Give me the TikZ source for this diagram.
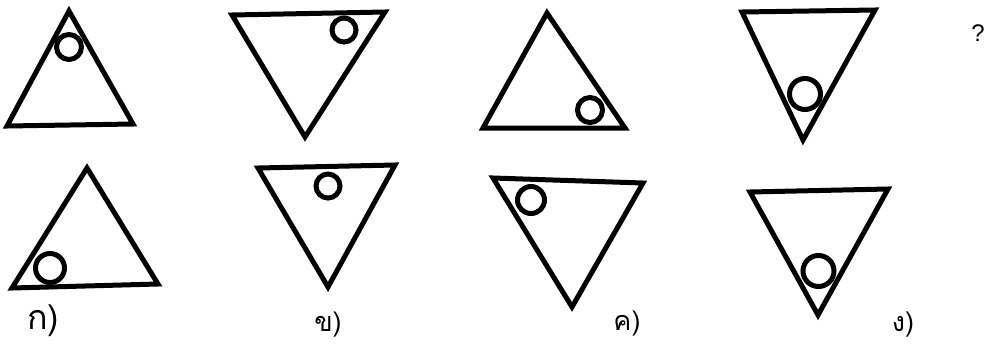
\documentclass[tikz,border=0pt]{standalone}
\usepackage{fontspec}
\setsansfont{Liberation Sans}
\newfontfamily\thaifont[Script=Thai]{Loma}

\begin{document}
\begin{tikzpicture}[x=0.5pt,y=-0.5pt,
  tri/.style={line width=2.5pt,line join=miter},
  ring/.style={line width=2.5pt},
  lbl/.style={font=\thaifont\fontsize{13.5}{15}\selectfont},
  bigLbl/.style={font=\thaifont\fontsize{17}{19}\selectfont}]
\useasboundingbox (0,0) rectangle (992,344);

% top row
\draw[tri] (69,11) -- (133,124) -- (7,126) -- cycle;
\draw[ring] (69,47) circle[radius=6.25pt];

\draw[tri] (232,15) -- (385,12) -- (305,137) -- cycle;
\draw[ring] (344,30) circle[radius=6pt];

\draw[tri] (547,13) -- (625,128) -- (483,128) -- cycle;
\draw[ring] (590,110) circle[radius=6.25pt];

\draw[tri] (742,12) -- (875,10) -- (803,140) -- cycle;
\draw[ring] (805,94) circle[radius=7.75pt];

\node[font=\sffamily\fontsize{12}{14}\selectfont] (ask) at (978,33) {?};

% bottom row
\draw[tri] (87,168) -- (158,284) -- (12,288) -- cycle;
\draw[ring] (50,268) circle[radius=7.25pt];

\draw[tri] (258,168) -- (395,165) -- (328,287) -- cycle;
\draw[ring] (328,186) circle[radius=6pt];

\draw[tri] (493,178) -- (643,183) -- (572,307) -- cycle;
\draw[ring] (531,200) circle[radius=6.75pt];

\draw[tri] (750,192) -- (888,189) -- (818,315) -- cycle;
\draw[ring] (818.5,271) circle[radius=7.75pt];

% labels
\node[bigLbl] (lblA) at (43,321) {ก)};
\node[lbl] (lblB) at (328,325) {ข)};
\node[lbl] (lblC) at (627,324) {ค)};
\node[lbl] (lblD) at (903,325) {ง)};
\end{tikzpicture}
\end{document}
